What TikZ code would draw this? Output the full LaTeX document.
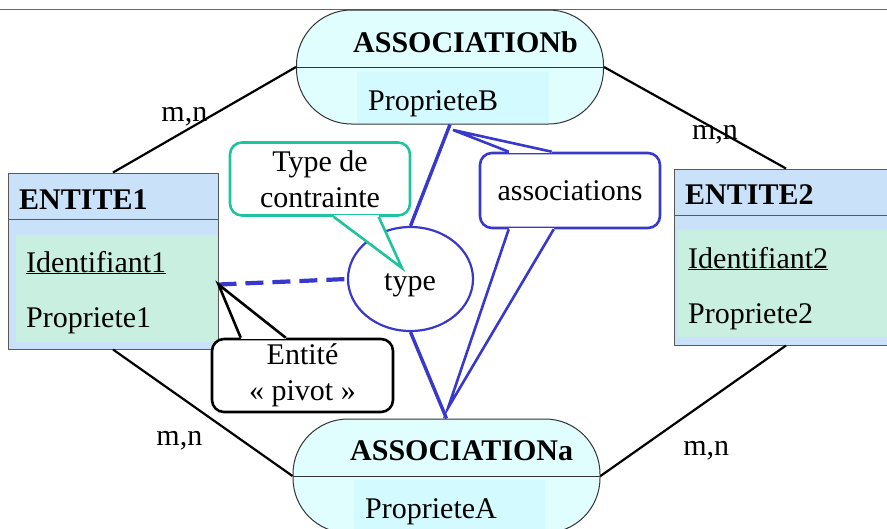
\documentclass[tikz,border=0pt]{standalone}
\usepackage{fontspec}
\setmainfont{Liberation Serif}
\usetikzlibrary{calc,positioning,shapes.geometric}

\definecolor{entblue}{HTML}{C9E2FA}
\definecolor{entgreen}{HTML}{C8EFE0}
\definecolor{asscyan}{HTML}{E0FEFE}
\definecolor{propcyan}{HTML}{D3FAFE}
\definecolor{linkblue}{HTML}{3838CC}
\definecolor{noteteal}{HTML}{20C49C}

\begin{document}
\begin{tikzpicture}[
		x=1pt, y=-1pt,
		font=\fontsize{30}{36}\selectfont,
		entity/.style={
			rectangle,
			draw=black!65,
			line width=1pt,
			fill=entblue,
			inner sep=0pt
		},
		assoc/.style={
			rectangle,
			rounded corners=55pt,
			draw=black!80,
			line width=1pt,
			fill=asscyan,
			minimum width=307pt,
			minimum height=114pt,
			inner sep=0pt
		},
		field/.style={
			rectangle,
			anchor=north west,
			inner sep=0pt
		},
		txt/.style={
			anchor=base west,
			inner sep=0pt
		},
		card/.style={
			anchor=base,
			inner sep=0pt
		},
		note/.style={
			rectangle,
			rounded corners=12pt,
			fill=white,
			line width=2.6pt,
			align=center,
			inner sep=0pt,
			minimum width=180pt,
			minimum height=73pt
		},
		link/.style={
			draw=black,
			line width=2.2pt
		},
		bluelink/.style={
			draw=linkblue,
			line width=3.4pt
		}
		]
		\useasboundingbox (0,0) rectangle (887,528);
		\clip (0,0) rectangle (887,528);
		\draw [black!60, line width=1pt] (0,9) -- (887,9);
		
		% We start by placing the associations
		\node [assoc] (assb) at (450,67) {};
		\node [field, fill=propcyan, minimum width=192pt, minimum height=51pt] (assbf) at ($(assb.north west)+(61,62)$) {};
		\draw [draw=black!80, line width=1pt] (assb.west) -- (assb.east);
		\node [txt, font=\fontsize{30}{36}\selectfont\bfseries] (assbt) at (353,52) {ASSOCIATIONb};
		\node [txt] (assbp) at (368,110) {ProprieteB};
		
		\node [assoc] (assa) at (446.5,476) {};
		\node [field, fill=propcyan, minimum width=191pt, minimum height=60pt] (assaf) at ($(assa.north west)+(61,61)$) {};
		\draw [draw=black!80, line width=1pt] (assa.west) -- (assa.east);
		\node [txt, font=\fontsize{30}{36}\selectfont\bfseries] (assat) at (350,460) {ASSOCIATIONa};
		\node [txt] (assap) at (365,518) {ProprieteA};
		
		% then the entities
		\node [entity, minimum width=210pt, minimum height=176pt] (ent1) at (113,261) {};
		\draw [draw=black!65, line width=1pt] ($(ent1.north west)+(0,47)$) -- ($(ent1.north east)+(0,47)$);
		\node [field, fill=entgreen, minimum width=201pt, minimum height=107pt] (ent1f) at ($(ent1.north west)+(8,62)$) {};
		\node [txt, font=\fontsize{30}{36}\selectfont\bfseries] (ent1t) at (19,209) {ENTITE1};
		\node [txt] (ent1id) at (26,272) {\underline{Identifiant1}};
		\node [txt] (ent1p) at (26,327) {Propriete1};
		
		\node [entity, minimum width=224pt, minimum height=176pt] (ent2) at (786,257) {};
		\draw [draw=black!65, line width=1pt] ($(ent2.north west)+(0,47)$) -- ($(ent2.north east)+(0,47)$);
		\node [field, fill=entgreen, minimum width=214pt, minimum height=107pt] (ent2f) at ($(ent2.north west)+(4,61)$) {};
		\node [txt, font=\fontsize{30}{36}\selectfont\bfseries] (ent2t) at (685,204) {ENTITE2};
		\node [txt] (ent2id) at (688,268) {\underline{Identifiant2}};
		\node [txt] (ent2p) at (688,323) {Propriete2};
		
		% cardinalities
		\draw [link] (ent1.north) -- node [card, pos=0.39, yshift=10pt] (mn1) {m,n} (assb.west);
		\draw [link] (assb.east) -- node [card, pos=0.61, yshift=-11pt] (mn2) {m,n} (ent2.north);
		\draw [link] (ent1.south) -- node [card, pos=0.37, yshift=-49pt] (mn3) {m,n} (assa.west);
		\draw [link] (assa.east) -- node [card, pos=0.57, yshift=-54pt] (mn4) {m,n} (ent2.south);
		
		% the constraint
		\node [ellipse, draw=linkblue, line width=2.2pt, fill=white, minimum width=125pt, minimum height=104pt, inner sep=0pt] (type) at (410.5,279) {};
		\node [anchor=base, inner sep=0pt] (typet) at (410,290) {type};
		\draw [bluelink] (assb.south) -- (type.north);
		\draw [bluelink] (type.south) -- (assa.north);
		\coordinate (pivot) at ($(ent1.north east)+(0,112)$);
		\draw [draw=linkblue, line width=4.2pt, dash pattern=on 18pt off 9pt] (pivot) -- (type.west);
		
		% callouts
		\node [note, draw=noteteal] (tc) at (320,179) {Type de\\contrainte};
		\coordinate (tctip) at (402,268);
		\fill [white] ($(tc.south west)+(105,0)$) -- (tctip) -- ($(tc.south west)+(150,0)$) -- cycle;
		\draw [white, line width=3.4pt] ($(tc.south west)+(105,0)$) -- ($(tc.south west)+(150,0)$);
		\draw [noteteal, line width=2.6pt] ($(tc.south west)+(105,0)$) -- (tctip) -- ($(tc.south west)+(150,0)$);
		
		\node [note, draw=linkblue, minimum height=75pt] (asc) at (570,190.5) {associations};
		\coordinate (asctop) at (453,130);
		\coordinate (ascbot) at (448,408);
		\fill [white] ($(asc.north west)+(30,0)$) -- (asctop) -- ($(asc.north west)+(73,0)$) -- cycle;
		\draw [white, line width=3.4pt] ($(asc.north west)+(30,0)$) -- ($(asc.north west)+(73,0)$);
		\draw [linkblue, line width=2.6pt] ($(asc.north west)+(30,0)$) -- (asctop) -- ($(asc.north west)+(73,0)$);
		\fill [white] ($(asc.south west)+(30,0)$) -- (ascbot) -- ($(asc.south west)+(75,0)$) -- cycle;
		\draw [white, line width=3.4pt] ($(asc.south west)+(30,0)$) -- ($(asc.south west)+(75,0)$);
		\draw [linkblue, line width=2.6pt] ($(asc.south west)+(30,0)$) -- (ascbot) -- ($(asc.south west)+(75,0)$);
		
		\node [note, draw=black, minimum width=181pt] (pv) at (302.5,375.5) {Entité\\« pivot »};
		\fill [white] ($(pv.north west)+(30,0)$) -- (pivot) -- ($(pv.north west)+(75,0)$) -- cycle;
		\draw [white, line width=3.4pt] ($(pv.north west)+(30,0)$) -- ($(pv.north west)+(75,0)$);
		\draw [black, line width=2.6pt] ($(pv.north west)+(30,0)$) -- (pivot) -- ($(pv.north west)+(75,0)$);
		
		\end{tikzpicture}
\end{document}
